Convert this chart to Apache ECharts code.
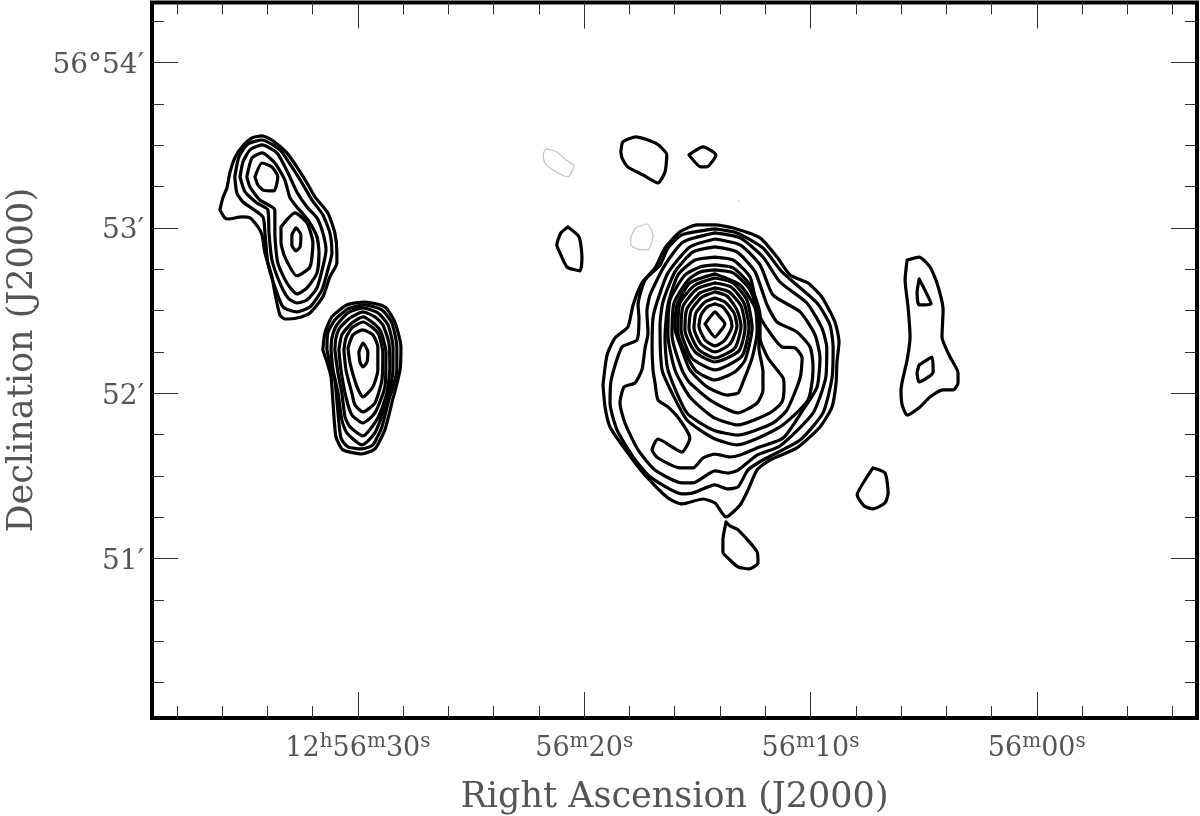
<!DOCTYPE html>
<html><head><meta charset="utf-8">
<style>html,body{margin:0;padding:0;background:#fff}#c{width:1200px;height:816px}</style>
<script src="https://cdn.jsdelivr.net/npm/echarts@6/dist/echarts.min.js"></script></head>
<body><div id="c"></div><script>
// Right ascension in seconds past 12h56m00s, declination in arcminutes past 56 deg.
const raMajor=[30,20,10,0];
const raMinor=[38,36,34,32,28,26,24,22,18,16,14,12,8,6,4,2,-2,-4,-6];
const decMajor=[54,53,52,51];
const decMinor=[54.25,53.75,53.5,53.25,52.75,52.5,52.25,51.75,51.5,51.25,50.75,50.5,50.25];

const a1=[[36.10,53.109],[35.88,53.061],[35.74,53.054],[35.13,53.067],[34.77,53.061],[34.42,53.006],[34.24,52.958],[34.11,52.849],[33.80,52.704],[33.67,52.607],[33.45,52.474],[33.23,52.449],[32.70,52.455],[32.12,52.486],[31.55,52.583],[31.24,52.704],[30.93,52.788],[30.93,52.849],[31.02,52.970],[31.33,53.091],[31.90,53.188],[32.25,53.272],[32.70,53.369],[33.14,53.454],[33.80,53.532],[34.24,53.557],[34.68,53.545],[35.13,53.490],[35.44,53.424],[35.66,53.333],[35.79,53.242],[35.97,53.182]];
const a2=[[35.44,53.309],[35.35,53.212],[35.08,53.157],[34.20,53.067],[34.11,52.970],[33.98,52.788],[33.67,52.643],[33.31,52.522],[32.70,52.492],[32.12,52.522],[31.59,52.625],[31.33,52.746],[31.15,52.849],[31.24,52.970],[31.55,53.079],[32.03,53.169],[32.47,53.272],[32.92,53.369],[33.45,53.472],[34.24,53.532],[34.86,53.508],[35.26,53.430]];
const a3=[[35.21,53.309],[34.99,53.218],[34.46,53.151],[33.98,53.109],[33.93,52.970],[33.80,52.806],[33.45,52.667],[33.09,52.576],[32.70,52.546],[32.25,52.564],[31.81,52.637],[31.55,52.764],[31.41,52.867],[31.55,52.970],[31.81,53.061],[32.25,53.127],[32.70,53.218],[33.09,53.333],[33.58,53.454],[34.24,53.502],[34.77,53.472],[35.08,53.399]];
const a4=[[34.91,53.309],[34.77,53.248],[34.33,53.169],[33.67,53.109],[33.67,52.970],[33.54,52.788],[33.14,52.667],[32.70,52.601],[32.25,52.637],[31.81,52.728],[31.72,52.849],[31.81,52.946],[32.21,53.048],[32.70,53.127],[33.00,53.182],[33.23,53.290],[33.67,53.393],[34.24,53.454],[34.68,53.424]];
const a5=[[34.55,53.309],[34.24,53.393],[33.80,53.369],[33.54,53.309],[33.71,53.224],[34.20,53.230],[34.42,53.260]];
const a6=[[33.40,53.006],[32.78,53.091],[32.25,53.030],[31.99,52.909],[32.12,52.764],[32.70,52.710],[33.23,52.825],[33.40,52.915]];
const a7=[[32.92,52.958],[32.74,53.000],[32.52,52.958],[32.56,52.885],[32.74,52.861],[32.92,52.897]];

const b1=[[31.55,52.262],[31.37,52.189],[31.19,52.099],[31.10,51.941],[30.97,51.736],[30.66,51.657],[29.82,51.633],[29.25,51.663],[28.81,51.778],[28.50,51.941],[28.14,52.141],[28.10,52.280],[28.37,52.431],[28.81,52.522],[29.69,52.552],[30.49,52.534],[31.15,52.462],[31.46,52.365]];
const b2=[[31.37,52.262],[31.24,52.183],[31.02,52.080],[30.88,51.881],[30.75,51.729],[30.44,51.675],[29.82,51.663],[29.34,51.687],[28.94,51.796],[28.67,51.941],[28.28,52.141],[28.28,52.280],[28.50,52.425],[28.94,52.504],[29.69,52.534],[30.44,52.510],[31.02,52.443],[31.33,52.365]];
const b3=[[31.19,52.262],[31.10,52.141],[30.88,52.002],[30.71,51.838],[30.49,51.760],[29.82,51.687],[29.25,51.760],[28.81,51.917],[28.45,52.141],[28.45,52.280],[28.67,52.413],[29.12,52.486],[29.78,52.516],[30.44,52.486],[30.93,52.413],[31.15,52.334]];
const b4=[[31.02,52.262],[30.88,52.123],[30.71,52.002],[30.57,51.857],[30.35,51.796],[29.78,51.742],[29.12,51.850],[28.72,52.002],[28.59,52.159],[28.63,52.304],[28.90,52.413],[29.25,52.462],[29.78,52.492],[30.35,52.455],[30.80,52.395],[30.97,52.334]];
const b5=[[30.84,52.262],[30.75,52.141],[30.53,51.978],[30.27,51.869],[29.78,51.820],[29.25,51.881],[28.81,52.038],[28.76,52.244],[29.03,52.383],[29.78,52.462],[30.27,52.425],[30.71,52.353]];
const b6=[[30.62,52.262],[30.53,52.141],[30.27,52.002],[30.13,51.929],[29.78,51.887],[29.25,51.941],[28.94,52.080],[28.90,52.244],[29.12,52.365],[29.78,52.431],[30.27,52.395],[30.53,52.334]];
const b7=[[30.44,52.274],[30.35,52.183],[30.04,52.038],[29.78,51.978],[29.34,52.038],[29.12,52.141],[29.12,52.280],[29.34,52.353],[29.78,52.383],[30.22,52.353]];
const b8=[[29.96,52.250],[29.78,52.304],[29.56,52.250],[29.60,52.189],[29.78,52.159],[29.91,52.189]];

const core0=[[14.66,52.419],[14.40,52.467],[14.22,52.492],[14.04,52.467],[13.78,52.419],[14.04,52.365],[14.22,52.340],[14.40,52.365]];
const core1=[[14.22,52.540],[13.87,52.522],[13.56,52.461],[13.47,52.407],[13.78,52.322],[14.22,52.286],[14.66,52.322],[14.93,52.407],[14.84,52.473],[14.57,52.522]];
const core2=[[14.22,52.576],[13.78,52.552],[13.38,52.486],[13.25,52.407],[13.56,52.298],[14.22,52.250],[14.84,52.298],[15.15,52.395],[15.06,52.486],[14.66,52.552]];
const core3=[[14.22,52.613],[13.69,52.588],[13.25,52.504],[13.07,52.407],[13.34,52.274],[14.22,52.213],[14.97,52.268],[15.37,52.395],[15.28,52.498],[14.79,52.582]];
const core4=[[14.22,52.637],[13.60,52.613],[13.07,52.528],[12.89,52.401],[13.16,52.256],[14.22,52.189],[15.10,52.250],[15.55,52.383],[15.46,52.510],[14.88,52.607]];
const core5=[[14.22,52.667],[13.51,52.643],[12.94,52.546],[12.72,52.401],[13.03,52.225],[14.22,52.141],[15.24,52.213],[15.72,52.383],[15.63,52.528],[15.02,52.631]];
const core6=[[14.22,52.697],[13.42,52.667],[12.81,52.564],[12.58,52.395],[12.89,52.201],[13.34,52.129],[14.22,52.080],[15.10,52.141],[15.86,52.371],[15.77,52.546],[15.10,52.655]];
const m9=[[14.22,52.722],[13.11,52.655],[12.45,52.516],[12.36,52.371],[12.58,52.213],[12.98,52.068],[13.20,52.002],[13.69,51.989],[14.57,52.038],[15.33,52.141],[15.68,52.262],[15.99,52.395],[15.90,52.534],[15.33,52.667]];
const m8=[[14.22,52.746],[13.42,52.728],[12.67,52.625],[12.28,52.455],[12.28,52.274],[12.10,52.129],[12.10,52.020],[12.36,51.941],[13.20,51.881],[14.31,51.947],[15.33,52.062],[15.68,52.141],[16.12,52.352],[16.03,52.546],[15.41,52.685],[14.88,52.734]];
const m7=[[14.22,52.776],[13.42,52.758],[12.67,52.655],[12.23,52.473],[12.23,52.334],[11.88,52.213],[11.21,52.092],[11.17,52.038],[11.26,51.947],[11.79,51.881],[13.20,51.808],[14.31,51.856],[15.33,51.977],[15.99,52.141],[16.30,52.352],[16.21,52.564],[15.55,52.715],[14.88,52.764]];
const m6=[[14.22,52.824],[13.42,52.806],[12.67,52.703],[12.32,52.492],[11.88,52.383],[11.26,52.280],[10.68,52.274],[10.37,52.213],[10.46,52.092],[11.04,51.899],[11.66,51.820],[13.20,51.747],[14.31,51.778],[15.46,51.881],[16.30,52.141],[16.43,52.334],[16.30,52.534],[15.86,52.715],[15.10,52.806]];
const m5=[[14.22,52.885],[13.25,52.855],[12.45,52.734],[11.92,52.534],[11.48,52.431],[10.60,52.371],[10.02,52.280],[9.89,52.171],[9.89,52.141],[10.11,51.959],[11.35,51.796],[13.25,51.687],[14.31,51.729],[15.46,51.838],[16.12,52.002],[16.56,52.141],[16.65,52.413],[16.52,52.552],[15.99,52.734],[15.19,52.855]];
const m4=[[14.22,52.933],[13.11,52.897],[12.23,52.776],[11.66,52.595],[10.46,52.492],[9.80,52.353],[9.58,52.213],[9.71,52.038],[10.33,51.899],[11.21,51.729],[12.36,51.669],[13.11,51.626],[13.56,51.614],[14.22,51.632],[14.75,51.608],[15.19,51.548],[15.77,51.548],[16.74,51.608],[17.00,51.657],[16.74,51.723],[15.68,51.644],[15.33,51.729],[15.77,51.838],[16.30,51.917],[16.74,51.959],[16.87,52.062],[16.96,52.141],[17.00,52.274],[16.96,52.455],[16.78,52.552],[16.30,52.728],[15.33,52.885]];
const m3=[[14.22,52.970],[13.11,52.940],[12.10,52.824],[11.35,52.673],[10.16,52.546],[9.50,52.395],[9.28,52.274],[9.33,52.092],[9.89,51.880],[11.35,51.681],[12.36,51.626],[13.20,51.535],[13.65,51.517],[14.22,51.530],[15.19,51.457],[15.68,51.457],[16.87,51.536],[17.62,51.657],[18.20,51.820],[18.42,51.941],[18.24,52.038],[17.76,52.062],[17.45,52.141],[17.31,52.274],[17.18,52.365],[17.23,52.492],[17.09,52.594],[16.43,52.776],[15.63,52.915]];
const m2=[[14.22,52.994],[13.25,52.970],[12.10,52.879],[11.26,52.734],[9.71,52.546],[9.14,52.413],[9.00,52.274],[9.05,52.092],[9.45,51.881],[10.46,51.717],[12.10,51.596],[12.76,51.536],[13.20,51.433],[13.65,51.421],[14.22,51.445],[15.19,51.397],[15.68,51.391],[17.09,51.494],[17.84,51.615],[18.55,51.778],[18.86,51.941],[18.81,52.080],[18.33,52.280],[17.67,52.322],[17.58,52.455],[17.62,52.534],[17.31,52.685],[16.65,52.776],[16.30,52.879],[15.68,52.958]];
const m1=[[19.17,52.050],[19.08,51.917],[18.86,51.796],[18.11,51.645],[17.40,51.518],[16.30,51.366],[15.68,51.330],[14.75,51.360],[14.22,51.336],[13.73,51.251],[13.11,51.324],[12.76,51.415],[12.36,51.536],[11.79,51.596],[10.60,51.669],[9.58,51.796],[9.05,51.917],[8.87,52.062],[8.83,52.189],[8.74,52.310],[8.92,52.431],[9.50,52.582],[10.11,52.667],[10.90,52.715],[11.48,52.824],[12.23,52.940],[13.42,53.000],[14.22,53.018],[15.02,53.018],[15.77,52.976],[16.43,52.879],[16.87,52.758],[17.45,52.667],[17.84,52.534],[18.07,52.401],[18.64,52.334],[18.99,52.231]];

const s1=[[18.38,53.460],[18.29,53.520],[17.72,53.551],[16.79,53.508],[16.35,53.442],[16.43,53.339],[16.74,53.272],[17.41,53.321],[18.07,53.369],[18.33,53.424]];
const s2=[[15.37,53.442],[14.75,53.490],[14.18,53.442],[14.58,53.369],[14.84,53.369]];
const s3=[[20.72,53.006],[20.23,52.946],[20.10,52.825],[20.19,52.740],[20.76,52.764],[21.07,52.849],[21.21,52.897],[21.03,52.970]];
const s4=[[13.73,51.221],[13.56,51.197],[13.20,51.173],[12.36,51.040],[12.32,50.973],[12.72,50.937],[13.20,50.949],[13.56,50.991],[13.87,51.040],[13.87,51.112]];
const e1=[[5.73,52.806],[5.20,52.824],[4.72,52.764],[4.41,52.667],[4.14,52.504],[4.19,52.340],[3.83,52.219],[3.48,52.123],[3.48,52.062],[3.70,52.020],[4.14,52.020],[4.72,51.977],[5.16,51.917],[5.73,51.868],[5.95,51.929],[6.00,52.020],[5.73,52.201],[5.60,52.340],[5.69,52.522],[5.82,52.685]];
const e2=[[5.20,52.691],[4.67,52.540],[5.20,52.534],[5.29,52.607]];
const e3=[[5.20,52.171],[4.63,52.219],[4.58,52.129],[5.20,52.068],[5.29,52.123]];
const e4=[[7.24,51.548],[6.71,51.518],[6.57,51.397],[6.71,51.336],[7.24,51.300],[7.63,51.318],[7.94,51.385],[7.59,51.475]];
const neg1=[[21.82,53.442],[21.69,53.478],[21.21,53.460],[20.85,53.417],[20.45,53.375],[20.72,53.309],[21.38,53.351],[21.74,53.393]];
const neg2=[[17.94,52.946],[17.72,53.000],[17.23,53.024],[16.96,52.958],[17.18,52.867],[17.67,52.873],[17.94,52.897]];
const speck=[[13.20,53.163],[13.16,53.163]];

const positive=[a1,a2,a3,a4,a5,a6,a7,b1,b2,b3,b4,b5,b6,b7,b8,core0,core1,core2,core3,core4,core5,core6,m9,m8,m7,m6,m5,m4,m3,m2,m1,s1,s2,s3,s4,e1,e2,e3,e4];
const negative=[neg1,neg2];

const RA_MIN=-7.08,RA_MAX=39.10,DEC_MIN=50.035,DEC_MAX=54.364;
const FONT='"DejaVu Serif"',INK='#555';

const closed=c=>c.concat([c[0]]);
const lineSeries=(c,color,width,smooth)=>({type:'line',data:c,showSymbol:false,symbol:'none',silent:true,animation:false,
  clip:true,smooth:smooth,lineStyle:{color:color,width:width,join:'round',cap:'round'},xAxisIndex:0,yAxisIndex:0});
const series=[...positive.map(c=>lineSeries(closed(c),'#000',3.2,0.2)),
  ...negative.map(c=>lineSeries(closed(c),'#c4c4c4',1.2,0.2)),
  lineSeries(speck,'#c4c4c4',1,false)];

function xA(pos,vals,len,opt){return Object.assign({type:'value',position:pos,inverse:true,min:RA_MIN,max:RA_MAX,scale:true,
  splitLine:{show:false},axisLine:{show:false,onZero:false},axisLabel:{show:false},
  axisTick:{show:true,inside:true,length:len,customValues:vals,lineStyle:{color:'#333',width:1}}},opt||{});}
function yA(pos,vals,len,opt){return Object.assign({type:'value',position:pos,min:DEC_MIN,max:DEC_MAX,scale:true,
  splitLine:{show:false},axisLine:{show:false,onZero:false},axisLabel:{show:false},
  axisTick:{show:true,inside:true,length:len,customValues:vals,lineStyle:{color:'#333',width:1}}},opt||{});}

const supRich={n:{fontFamily:FONT,fontSize:27,color:INK},s:{fontFamily:FONT,fontSize:20,color:INK,padding:[0,0,14,0]}};
const decRich={d:{fontFamily:FONT,fontSize:28,color:INK,padding:[6,0,0,0]}};
function raFmt(v){const ss=String(v).padStart(2,'0');
  return (v===30?'{n|12}{s|h}':'')+'{n|56}{s|m}{n|'+ss+'}{s|s}';}

const chart=echarts.init(document.getElementById('c'),null,{renderer:'canvas'});
chart.setOption({animation:false,backgroundColor:'#fff',
 grid:{left:152,right:3,top:2.5,bottom:98,show:true,borderColor:'#000',borderWidth:4,backgroundColor:'transparent',containLabel:false,outerBoundsMode:'none'},
 xAxis:[
  xA('bottom',raMajor,26,{name:'Right Ascension (J2000)',nameLocation:'middle',nameGap:62,
    nameTextStyle:{fontFamily:FONT,fontSize:35,color:INK},
    axisLabel:{show:true,customValues:raMajor,margin:14,formatter:raFmt,rich:supRich,color:INK}}),
  xA('bottom',raMinor,12),xA('top',raMajor,26),xA('top',raMinor,12)],
 yAxis:[
  yA('left',decMajor,26,{name:'Declination (J2000)',nameLocation:'middle',nameGap:112,
    nameTextStyle:{fontFamily:FONT,fontSize:35,color:INK},
    axisLabel:{show:true,customValues:decMajor,margin:8,color:INK,rich:decRich,
      formatter:v=>'{d|'+(v===54?'56°54′':v+'′')+'}'}}),
  yA('left',decMinor,12),yA('right',decMajor,26),yA('right',decMinor,12)],
 series:series});
</script></body></html>
